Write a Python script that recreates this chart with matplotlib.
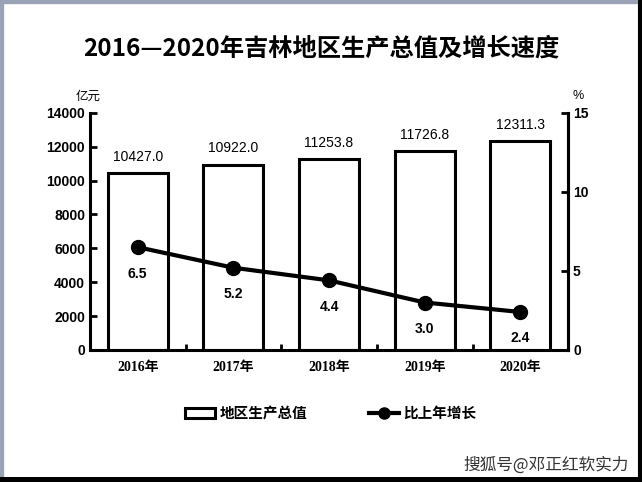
import matplotlib
matplotlib.use("Agg")
import matplotlib.pyplot as plt
from matplotlib.lines import Line2D
from matplotlib.patches import Rectangle

years = ["2016年", "2017年", "2018年", "2019年", "2020年"]
gdp = [10427.0, 10922.0, 11253.8, 11726.8, 12311.3]
growth = [6.5, 5.2, 4.4, 3.0, 2.4]

cjk = ["Liberation Sans", "Noto Sans CJK SC"]
serif = ["Liberation Serif", "Noto Sans CJK SC"]
plt.rcParams["font.family"] = cjk

fig = plt.figure(figsize=(6.42, 4.82), dpi=100)
ax = fig.add_axes([0.140, 0.274, 0.745, 0.492])
x = list(range(len(years)))

ax.bar(x, gdp, width=0.63, color="white", edgecolor="black", linewidth=2.2, zorder=2)
for xi, v in zip(x, gdp):
    ax.annotate(f"{v:.1f}", (xi, v), xytext=(0, 7), textcoords="offset points",
                ha="center", va="bottom", fontsize=10)

ax.set_xlim(-0.5, 4.5)
ax.set_ylim(0, 14000)
ax.set_yticks(range(0, 14001, 2000))
ax.set_xticks(x)
ax.set_xticklabels(years, family=serif, fontsize=10, fontweight="bold")
ax.set_xticks([i + 0.5 for i in x[:-1]], minor=True)
ax.tick_params(axis="x", which="major", length=0, pad=8)
ax.tick_params(axis="x", which="minor", direction="in", length=4, width=2)
ax.tick_params(axis="y", direction="in", length=5, width=2, labelsize=10)
for lab in ax.get_yticklabels():
    lab.set_fontweight("bold")
ax.spines["top"].set_visible(False)
for s in ("left", "right", "bottom"):
    ax.spines[s].set_linewidth(2.2)

ax2 = ax.twinx()
ax2.plot(x, growth, color="black", linewidth=3, marker="o", markersize=10, zorder=3)
for xi, v in zip(x, growth):
    ax2.annotate(f"{v:.1f}", (xi, v), xytext=(0, -14), textcoords="offset points",
                 ha="center", va="top", fontsize=10, fontweight="bold")
ax2.set_ylim(0, 15)
ax2.set_yticks([0, 5, 10, 15])
ax2.tick_params(axis="y", direction="in", length=5, width=2, labelsize=10)
for lab in ax2.get_yticklabels():
    lab.set_fontweight("bold")
ax2.spines["top"].set_visible(False)
ax2.spines["right"].set_linewidth(2.2)

fig.text(0.137, 0.80, "亿元", ha="center", va="center", fontsize=9, family=cjk)
fig.text(0.900, 0.80, "%", ha="center", va="center", fontsize=9, family=cjk)
fig.text(0.5, 0.900, "2016—2020年吉林地区生产总值及增长速度", ha="center", va="center",
         fontsize=17.5, fontweight="bold", family=["Noto Sans CJK SC"])

handles = [Rectangle((0, 0), 1, 1, facecolor="white", edgecolor="black", linewidth=2.2),
           Line2D([], [], color="black", linewidth=3, marker="o", markersize=8)]
fig.legend(handles, ["地区生产总值", "比上年增长"], loc="center", bbox_to_anchor=(0.515, 0.143),
           ncol=2, frameon=False, columnspacing=4.2, handlelength=2.1, handletextpad=0.3,
           prop={"family": ["Noto Sans CJK SC"], "size": 10.5, "weight": "bold"})

fig.text(0.85, 0.035, "搜狐号@邓正红软实力", ha="center", va="center", fontsize=12,
         color="#333333", family=["Noto Sans CJK SC"])

# picture frame
fig.patches.append(Rectangle((0, 0), 1, 1, transform=fig.transFigure, fill=False,
                             edgecolor="#9aa3b5", linewidth=6))
fig.patches.append(Rectangle((0.993, 0), 0.007, 1, transform=fig.transFigure,
                             facecolor="black", edgecolor="none"))
fig.patches.append(Rectangle((0, 0), 1, 0.01, transform=fig.transFigure,
                             facecolor="black", edgecolor="none"))

fig.savefig("out.png", dpi=100)
